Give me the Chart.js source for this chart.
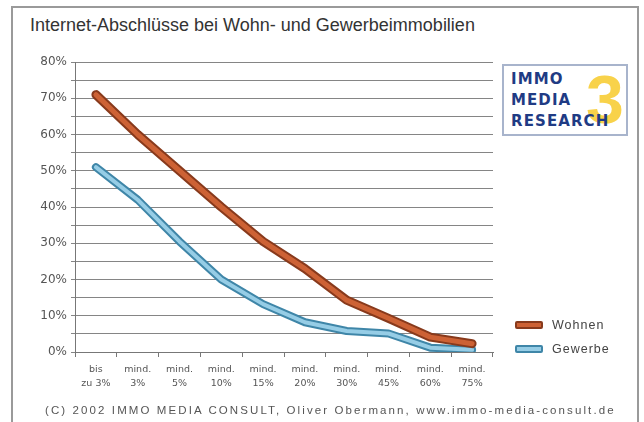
<!DOCTYPE html>
<html>
<head>
<meta charset="utf-8">
<script src="https://cdn.jsdelivr.net/npm/chart.js@4/dist/chart.umd.min.js"></script>
<style>
  body { margin: 0; background: #fff; font-family: "Liberation Sans", Arial, sans-serif; }
  #wrap { position: relative; width: 644px; height: 422px; overflow: hidden; }
  #frame { position: absolute; left: 11px; top: 6px; width: 624px; height: 440px; border: 2px solid #9a9a9a; }
  #title { position: absolute; left: 30px; top: 15px; font-size: 18px; color: #333; white-space: nowrap; }
  #logo { position: absolute; left: 502px; top: 64px; width: 122px; height: 68px; border: 2px solid #a8b4cc; background: #fff; overflow: hidden; }
  #logo .three { position: absolute; left: 82px; top: -6px; font-size: 68px; font-weight: bold; color: #f8d24a; font-family: "Liberation Sans", Arial, sans-serif; }
  #logo .txt { position: absolute; left: 7px; top: 3px; font-size: 15px; font-weight: bold; line-height: 21px; color: #1f3b84; font-family: "DejaVu Sans", Verdana, sans-serif; letter-spacing: 1.1px; }
  #legend { position: absolute; left: 515px; top: 313px; font-size: 12.5px; color: #444; letter-spacing: 1px; }
  #legend .row { height: 24px; display: flex; align-items: center; }
  #legend .sw { width: 24px; height: 4px; border: 2px solid; border-radius: 2px; margin-right: 9px; }
  #footer { position: absolute; left: 45px; top: 404px; font-size: 11.5px; color: #555; white-space: nowrap; letter-spacing: 2.1px; }
  canvas { position: absolute; left: 0; top: 0; }
</style>
</head>
<body>
<div id="wrap">
  <div id="frame"></div>
  <div id="title">Internet-Abschlüsse bei Wohn- und Gewerbeimmobilien</div>
  <canvas id="chart" width="644" height="422"></canvas>
  <div id="logo"><span class="three">3</span><div class="txt">IMMO<br>MEDIA<br>RESEARCH</div></div>
  <div id="legend"></div>
  <div id="footer">(C) 2002 IMMO MEDIA CONSULT, Oliver Obermann, www.immo-media-consult.de</div>
</div>
<script>
// categories (share of deals closed via internet)
const categories = [
    ['bis', 'zu 3%'], ['mind.', '3%'], ['mind.', '5%'], ['mind.', '10%'], ['mind.', '15%'],
    ['mind.', '20%'], ['mind.', '30%'], ['mind.', '45%'], ['mind.', '60%'], ['mind.', '75%']
];
const seriesNames = ['Wohnen', 'Gewerbe'];
const wohnen = [71, 60, 50, 40, 30.5, 23, 14.3, 9.3, 4.1, 2.3];
const gewerbe = [51, 42, 30.5, 20, 13.2, 8.2, 5.8, 5.1, 1.2, 0.6];
const yTicks = [0, 10, 20, 30, 40, 50, 60, 70, 80];

const colors = {
    wohnen: { fill: '#cd6235', edge: '#883a1c' },
    gewerbe: { fill: '#96cde6', edge: '#3f86a8' }
};

function lineSet(label, data, color, width) {
    return {
        label: label,
        data: data,
        borderColor: color,
        borderWidth: width,
        pointRadius: 0,
        tension: 0,
        fill: false,
        borderJoinStyle: 'round',
        borderCapStyle: 'round'
    };
}

const ctx = document.getElementById('chart');
new Chart(ctx, {
    type: 'line',
    data: {
        labels: categories,
        datasets: [
            lineSet(seriesNames[0], wohnen, colors.wohnen.fill, 5),
            lineSet(seriesNames[0] + '_edge', wohnen, colors.wohnen.edge, 9),
            lineSet(seriesNames[1], gewerbe, colors.gewerbe.fill, 4),
            lineSet(seriesNames[1] + '_edge', gewerbe, colors.gewerbe.edge, 8)
        ]
    },
    options: {
        responsive: false,
        animation: false,
        layout: { padding: { left: 20, right: 151, top: 62, bottom: 30 } },
        plugins: {
            legend: { display: false },
            title: { display: false },
            tooltip: { enabled: false }
        },
        scales: {
            x: {
                offset: true,
                grid: { offset: true, drawOnChartArea: false, drawTicks: true, tickLength: 5, color: '#777' },
                border: { color: '#777', width: 1 },
                ticks: {
                    color: '#555',
                    font: { family: 'DejaVu Sans', size: 9.5, lineHeight: 1.5 },
                    padding: 5,
                    maxRotation: 0,
                    autoSkip: false
                },
                afterFit: (scale) => { scale.height = 40; }
            },
            y: {
                min: 0,
                max: 80,
                grid: { color: '#858585', lineWidth: 1, tickLength: 4 },
                border: { color: '#777', width: 1 },
                ticks: {
                    stepSize: 5,
                    autoSkip: false,
                    color: '#555',
                    padding: 4,
                    font: { family: 'DejaVu Sans', size: 12 },
                    callback: (v) => yTicks.includes(v) ? v + '%' : ''
                },
                afterFit: (scale) => { scale.width = 55; }
            }
        }
    }
});

// legend built from the series
const legend = document.getElementById('legend');
[[seriesNames[0], colors.wohnen], [seriesNames[1], colors.gewerbe]].forEach(([name, c]) => {
    const row = document.createElement('div');
    row.className = 'row';
    row.innerHTML = '<span class="sw" style="background:' + c.fill + ';border-color:' + c.edge + '"></span>' + name;
    legend.appendChild(row);
});
</script>
</body>
</html>
